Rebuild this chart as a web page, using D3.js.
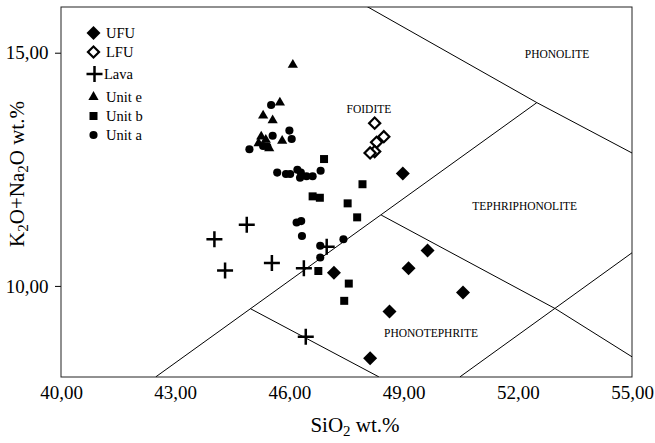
<!DOCTYPE html>
<html>
<head>
<meta charset="utf-8">
<script src="https://cdn.jsdelivr.net/npm/d3@7"></script>
<style>
  body { margin: 0; background: #fff; }
  svg { display: block; font-family: "Liberation Serif", "Times New Roman", serif; }
</style>
</head>
<body>
<script>
// SiO2 / K2O+Na2O pairs for each group
var ufu = [[48.98, 12.41], [49.63, 10.76], [49.13, 10.38], [47.17, 10.28], [50.56, 9.86], [48.63, 9.45], [48.12, 8.45]];
var lfu = [[48.24, 13.49], [48.48, 13.20], [48.29, 13.08], [48.24, 12.88], [48.12, 12.85]];
var lava = [[44.88, 11.31], [44.03, 11.00], [44.31, 10.33], [45.54, 10.49], [46.38, 10.38], [46.98, 10.84], [46.43, 8.91]];
var unitE = [[46.09, 14.74], [45.75, 13.93], [45.31, 13.65], [45.56, 13.55], [45.26, 13.20], [45.19, 13.06], [45.47, 12.95], [45.81, 13.11], [45.38, 13.13]];
var unitB = [[46.91, 12.72], [47.92, 12.18], [46.61, 11.92], [46.80, 11.89], [47.53, 11.77], [47.78, 11.47], [46.76, 10.32], [47.56, 10.05], [47.44, 9.68]];
var unitA = [[45.52, 13.88], [46.00, 13.33], [46.06, 13.15], [44.95, 12.93], [45.42, 12.99], [45.56, 13.22], [45.31, 13.00],
             [45.68, 12.43], [45.91, 12.40], [46.02, 12.40], [46.21, 12.49], [46.30, 12.43], [46.28, 12.32], [46.45, 12.35],
             [46.61, 12.35], [46.82, 12.47], [46.19, 11.36], [46.31, 11.39], [46.33, 11.07], [46.81, 10.86], [47.42, 11.00], [46.81, 10.61]];

// classification field boundaries (data units)
var boundaries = [
  [[42.49, 8.05], [52.5, 13.93]],
  [[48.04, 15.99], [52.5, 13.93], [55, 12.85]],
  [[48.41, 11.52], [52.99, 9.51], [55, 8.48]],
  [[50.48, 8.05], [55, 10.71]],
  [[44.98, 9.51], [48.35, 8.05]]
];
var fieldNames = ["PHONOLITE", "FOIDITE", "TEPHRIPHONOLITE", "PHONOTEPHRITE"];
var fieldPos = [[53.03, 14.89], [48.09, 13.71], [52.18, 11.63], [49.72, 8.91]];

var xTicks = [40, 43, 46, 49, 52, 55];
var yTicks = [10, 15];
var groupNames = ["UFU", "LFU", "Lava", "Unit e", "Unit b", "Unit a"];

var width = 655,
    height = 443;

var x = d3.scaleLinear().domain([40, 55]).range([61, 632]);
var y = d3.scaleLinear().domain([8.047, 15.98]).range([377, 7]);

var svg = d3.select("body").append("svg")
    .attr("width", width)
    .attr("height", height);

svg.append("clipPath").attr("id", "clip")
  .append("rect")
    .attr("x", x(40)).attr("y", y(15.98))
    .attr("width", x(55) - x(40)).attr("height", y(8.047) - y(15.98));

var fmt = function(d) { return d3.format(".2f")(d).replace(".", ","); };

// axes
var xAxis = svg.append("g")
    .attr("transform", "translate(0," + y(8.047) + ")")
    .call(d3.axisBottom(x).tickValues(xTicks).tickSize(0).tickPadding(8.5).tickFormat(fmt));
xAxis.select(".domain").remove();
xAxis.selectAll("text").attr("font-size", 19).attr("font-family", "Liberation Serif").attr("fill", "#000");

var yAxis = svg.append("g")
    .attr("transform", "translate(" + x(40) + ",0)")
    .call(d3.axisLeft(y).tickValues(yTicks).tickSize(6).tickPadding(6.5).tickFormat(fmt));
yAxis.select(".domain").remove();
yAxis.selectAll("line").attr("stroke", "#000");
yAxis.selectAll("text").attr("font-size", 19).attr("font-family", "Liberation Serif").attr("fill", "#000");

// frame
svg.append("rect")
    .attr("x", x(40)).attr("y", y(15.98))
    .attr("width", x(55) - x(40)).attr("height", y(8.047) - y(15.98))
    .attr("fill", "none").attr("stroke", "#222").attr("stroke-width", 1);

// boundaries
var line = d3.line().x(function(d) { return x(d[0]); }).y(function(d) { return y(d[1]); });
svg.append("g").attr("clip-path", "url(#clip)")
  .selectAll("path").data(boundaries).enter().append("path")
    .attr("d", line)
    .attr("fill", "none").attr("stroke", "#000").attr("stroke-width", 1);

svg.selectAll(".field").data(fieldNames).enter().append("text")
    .attr("class", "field")
    .attr("x", function(d, i) { return x(fieldPos[i][0]); })
    .attr("y", function(d, i) { return y(fieldPos[i][1]); })
    .attr("text-anchor", "middle")
    .attr("font-size", 11.5)
    .text(function(d) { return d; });

// markers
var diamond = d3.symbol().type(d3.symbolSquare).size(98);
var openDiamond = d3.symbol().type(d3.symbolSquare).size(62);
var tri = d3.symbol().type(d3.symbolTriangle).size(45);
var sq = d3.symbol().type(d3.symbolSquare).size(64);
var circ = d3.symbol().type(d3.symbolCircle).size(52);
var plus = function() { return "M-8,0H8M0,-8V8"; };

var styles = [
  { data: ufu, path: diamond, rot: 45, fill: "#000", stroke: "none", sw: 0 },
  { data: lfu, path: openDiamond, rot: 45, fill: "#fff", stroke: "#000", sw: 2.2 },
  { data: lava, path: plus, rot: 0, fill: "none", stroke: "#000", sw: 2.5 },
  { data: unitE, path: tri, rot: 0, fill: "#000", stroke: "none", sw: 0 },
  { data: unitB, path: sq, rot: 0, fill: "#000", stroke: "none", sw: 0 },
  { data: unitA, path: circ, rot: 0, fill: "#000", stroke: "none", sw: 0 }
];

var drawOrder = [5, 4, 3, 2, 1, 0];
drawOrder.forEach(function(k) {
  var s = styles[k];
  svg.append("g").selectAll("path").data(s.data).enter().append("path")
      .attr("d", s.path)
      .attr("transform", function(d) { return "translate(" + x(d[0]) + "," + y(d[1]) + ") rotate(" + s.rot + ")"; })
      .attr("fill", s.fill).attr("stroke", s.stroke).attr("stroke-width", s.sw);
});

// legend
var legendY = [33, 52, 74, 97, 116, 135];
var legend = svg.append("g");
styles.forEach(function(s, i) {
  legend.append("path")
      .attr("d", s.path)
      .attr("transform", "translate(" + (i === 2 ? 94.5 : 93.5) + "," + legendY[i] + ") rotate(" + s.rot + ")")
      .attr("fill", s.fill).attr("stroke", s.stroke).attr("stroke-width", s.sw);
  legend.append("text")
      .attr("x", i === 2 ? 104 : 106)
      .attr("y", legendY[i] + 5)
      .attr("font-size", 14.5)
      .text(groupNames[i]);
});

// axis titles
var xt = svg.append("text")
    .attr("x", 355).attr("y", 432)
    .attr("text-anchor", "middle")
    .attr("font-size", 21);
xt.append("tspan").text("SiO");
xt.append("tspan").attr("font-size", 15).attr("dy", 4).text("2");
xt.append("tspan").attr("dy", -4).text(" wt.%");

var yt = svg.append("text")
    .attr("transform", "translate(24,174) rotate(-90)")
    .attr("text-anchor", "middle")
    .attr("font-size", 21);
yt.append("tspan").text("K");
yt.append("tspan").attr("font-size", 15).attr("dy", 4).text("2");
yt.append("tspan").attr("dy", -4).text("O+Na");
yt.append("tspan").attr("font-size", 15).attr("dy", 4).text("2");
yt.append("tspan").attr("dy", -4).text("O wt.%");
</script>
</body>
</html>
